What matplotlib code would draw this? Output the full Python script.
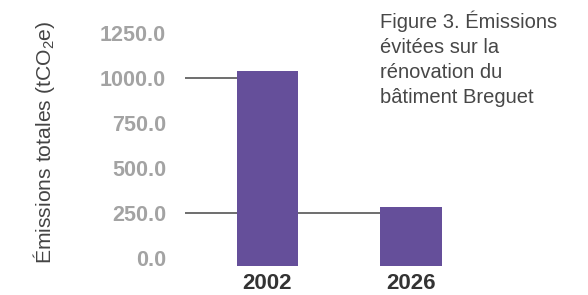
import numpy as np
import matplotlib
matplotlib.use("Agg")
import matplotlib.pyplot as plt

plt.rcParams['font.family'] = ['Liberation Sans', 'DejaVu Sans']
plt.rcParams['mathtext.default'] = 'regular'

# data
years = ['2002', '2026']
emissions = [1035, 285]
ref_levels = [1000, 250]      # reference lines, each drawn up to the bar it belongs to
yticks = [0, 250, 500, 750, 1000, 1250]

base = -40  # bars start slightly below zero in the original
x = np.arange(len(years))

fig = plt.figure(figsize=(5.88, 2.95), dpi=100)
ax = fig.add_axes([0.3146, 0.0993, 0.5247, 0.7905])

ax.hlines(ref_levels, xmin=-0.575, xmax=x, color='#555555', linewidth=1.2, zorder=1)
ax.bar(x, np.array(emissions) - base, bottom=base, width=0.43, color='#654f9a', zorder=2)

ax.set_xlim(-0.575, 1.575)
ax.set_ylim(base, 1250)
ax.set_yticks(yticks)
ax.set_yticklabels([f'{v:.1f}' for v in yticks])
ax.set_xticks(x)
ax.set_xticklabels(years)

for s in ax.spines.values():
    s.set_visible(False)
ax.tick_params(axis='y', length=0, pad=13.5, labelsize=15.5, labelcolor='#a3a3a3')
ax.tick_params(axis='x', length=0, pad=5, labelsize=16, labelcolor='#333333')
for lab in ax.get_yticklabels() + ax.get_xticklabels():
    lab.set_fontweight('bold')

fig.text(44 / 588, 1 - 142 / 295, 'Émissions totales (tCO$_2$e)', rotation=90,
         ha='center', va='center', fontsize=15.2, color='#444444')

fig.text(380 / 588, 1 - 10 / 295, 'Figure 3. Émissions\névitées sur la\nrénovation du\nbâtiment Breguet',
         ha='left', va='top', fontsize=14.5, color='#474747', linespacing=1.42)

fig.savefig('out.png', dpi=100)
